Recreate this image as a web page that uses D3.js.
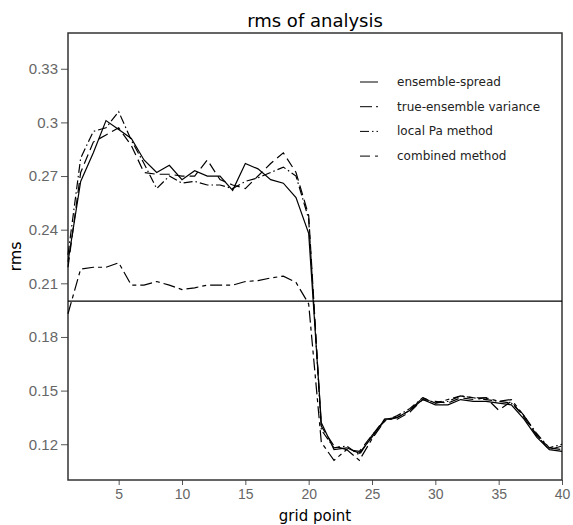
<!DOCTYPE html>
<html>
<head>
<meta charset="utf-8">
<script src="https://cdn.jsdelivr.net/npm/d3@7"></script>
<style>
  body { margin: 0; background: #fff; }
  svg { display: block; font-family: "DejaVu Sans", sans-serif; }
  .tick text { fill: #666; font-size: 15px; }
  .x-axis .tick text { font-size: 14px; }
  .tick line { stroke: #555; }
  .axis .domain { display: none; }
</style>
</head>
<body>
<svg id="chart" width="573" height="525"></svg>
<script>
// rms of analysis: 4 curves over 40 grid points, plus a reference line at 0.2

const gridPoints = [1, 2, 3, 4, 5, 6, 7, 8, 9, 10, 11, 12, 13, 14, 15, 16, 17, 18, 19, 20,
  21, 22, 23, 24, 25, 26, 27, 28, 29, 30, 31, 32, 33, 34, 35, 36, 37, 38, 39, 40];

const ensembleSpread = [0.222, 0.267, 0.283, 0.301, 0.296, 0.291, 0.279, 0.272, 0.276, 0.268,
  0.273, 0.270, 0.270, 0.262, 0.277, 0.274, 0.268, 0.266, 0.258, 0.238,
  0.132, 0.117, 0.118, 0.115, 0.124, 0.134, 0.135, 0.139, 0.145, 0.142,
  0.142, 0.145, 0.144, 0.144, 0.143, 0.142, 0.134, 0.124, 0.117, 0.116];

const trueEnsembleVariance = [0.193, 0.218, 0.219, 0.219, 0.2215, 0.209, 0.209, 0.211, 0.209, 0.2065,
  0.2075, 0.209, 0.209, 0.209, 0.211, 0.2115, 0.213, 0.214, 0.2105, 0.1985,
  0.121, 0.111, 0.117, 0.111, 0.123, 0.133, 0.135, 0.139, 0.146, 0.143,
  0.145, 0.147, 0.146, 0.146, 0.144, 0.145, 0.136, 0.125, 0.118, 0.117];

const localPaMethod = [0.226, 0.280, 0.295, 0.297, 0.306, 0.290, 0.277, 0.263, 0.270, 0.266,
  0.267, 0.265, 0.265, 0.263, 0.267, 0.269, 0.272, 0.275, 0.270, 0.246,
  0.128, 0.118, 0.119, 0.114, 0.125, 0.133, 0.136, 0.140, 0.146, 0.143,
  0.144, 0.147, 0.146, 0.145, 0.144, 0.143, 0.136, 0.126, 0.118, 0.120];

const combinedMethod = [0.219, 0.272, 0.289, 0.293, 0.297, 0.287, 0.272, 0.271, 0.271, 0.270,
  0.270, 0.279, 0.268, 0.265, 0.263, 0.270, 0.277, 0.283, 0.272, 0.248,
  0.130, 0.119, 0.117, 0.116, 0.125, 0.134, 0.134, 0.138, 0.145, 0.144,
  0.143, 0.146, 0.145, 0.146, 0.139, 0.144, 0.135, 0.125, 0.117, 0.119];

const seriesNames = ['ensemble-spread', 'true-ensemble variance', 'local Pa method', 'combined method'];
const referenceLevel = 0.2;

const xTicks = [5, 10, 15, 20, 25, 30, 35, 40];
const yTicks = [0.12, 0.15, 0.18, 0.21, 0.24, 0.27, 0.3, 0.33];

const series = [
  { name: seriesNames[0], values: ensembleSpread, dash: null },
  { name: seriesNames[1], values: trueEnsembleVariance, dash: '12,4,4,4' },
  { name: seriesNames[2], values: localPaMethod, dash: '9,3,1.5,3' },
  { name: seriesNames[3], values: combinedMethod, dash: '10,5' },
];

const svg = d3.select('#chart');
const plot = { left: 68, right: 562, top: 33, bottom: 480 };

const x = d3.scaleLinear().domain([1, 40]).range([plot.left, plot.right]);
const y = d3.scaleLinear().domain([0.10, 0.35]).range([plot.bottom, plot.top]);

// axes
svg.append('g')
  .attr('class', 'axis x-axis')
  .attr('transform', `translate(0,${plot.bottom})`)
  .call(d3.axisBottom(x).tickValues(xTicks).tickSize(5).tickPadding(4).tickFormat(d3.format('d')));

svg.append('g')
  .attr('class', 'axis y-axis')
  .attr('transform', `translate(${plot.left},0)`)
  .call(d3.axisLeft(y).tickValues(yTicks).tickSize(7).tickPadding(3).tickFormat(d3.format('~g')));

// frame
svg.append('rect')
  .attr('x', plot.left).attr('y', plot.top)
  .attr('width', plot.right - plot.left).attr('height', plot.bottom - plot.top)
  .attr('fill', 'none').attr('stroke', '#333').attr('stroke-width', 1.5);

// reference line
svg.append('line')
  .attr('x1', plot.left).attr('x2', plot.right)
  .attr('y1', y(referenceLevel)).attr('y2', y(referenceLevel))
  .attr('stroke', '#000').attr('stroke-width', 1.3);

const line = d3.line()
  .x((d, i) => x(gridPoints[i]))
  .y((d) => y(d));

svg.append('g')
  .selectAll('path')
  .data(series)
  .join('path')
  .attr('d', (d) => line(d.values))
  .attr('fill', 'none')
  .attr('stroke', '#000')
  .attr('stroke-width', 1.2)
  .attr('stroke-dasharray', (d) => d.dash);

// legend
const legend = svg.append('g').attr('transform', 'translate(360,82)');
const items = legend.selectAll('g')
  .data(series)
  .join('g')
  .attr('transform', (_, i) => `translate(0,${i * 24.7})`);

items.append('line')
  .attr('x1', 0).attr('x2', 18)
  .attr('stroke', '#000').attr('stroke-width', 1)
  .attr('stroke-dasharray', (d) => d.dash);

items.append('text')
  .attr('x', 37).attr('y', 4)
  .style('font-size', '12px')
  .attr('fill', '#222')
  .text((d) => d.name);

// titles
const midX = (plot.left + plot.right) / 2;

svg.append('text')
  .attr('x', midX).attr('y', 27)
  .attr('text-anchor', 'middle')
  .style('font-size', '18px')
  .text('rms of analysis');

svg.append('text')
  .attr('x', midX).attr('y', 521)
  .attr('text-anchor', 'middle')
  .style('font-size', '15px')
  .text('grid point');

svg.append('text')
  .attr('transform', `translate(21,${(plot.top + plot.bottom) / 2}) rotate(-90)`)
  .attr('text-anchor', 'middle')
  .style('font-size', '16px')
  .text('rms');
</script>
</body>
</html>
